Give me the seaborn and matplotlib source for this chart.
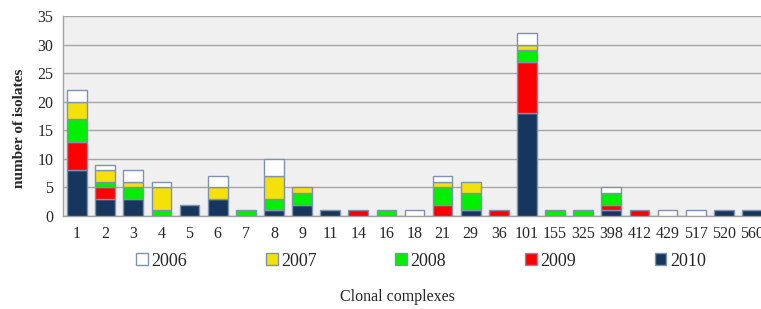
import numpy as np
import pandas as pd
import matplotlib
matplotlib.use("Agg")
import matplotlib.pyplot as plt
from matplotlib.patches import Patch
import seaborn as sns

categories = ["1", "2", "3", "4", "5", "6", "7", "8", "9", "11", "14", "16", "18",
              "21", "29", "36", "101", "155", "325", "398", "412", "429", "517", "520", "560"]
y2010 = [8, 3, 3, 0, 2, 3, 0, 1, 2, 1, 0, 0, 0, 0, 1, 0, 18, 0, 0, 1, 0, 0, 0, 1, 1]
y2009 = [5, 2, 0, 0, 0, 0, 0, 0, 0, 0, 1, 0, 0, 2, 0, 1, 9, 0, 0, 1, 1, 0, 0, 0, 0]
y2008 = [4, 1, 2, 1, 0, 0, 1, 2, 2, 0, 0, 1, 0, 3, 3, 0, 2, 1, 1, 2, 0, 0, 0, 0, 0]
y2007 = [3, 2, 1, 4, 0, 2, 0, 4, 1, 0, 0, 0, 0, 1, 2, 0, 1, 0, 0, 0, 0, 0, 0, 0, 0]
y2006 = [2, 1, 2, 1, 0, 2, 0, 3, 0, 0, 0, 0, 1, 1, 0, 0, 2, 0, 0, 1, 0, 1, 1, 0, 0]

years = ["2006", "2007", "2008", "2009", "2010"]
series = {"2010": y2010, "2009": y2009, "2008": y2008, "2007": y2007, "2006": y2006}
colors = {"2006": "#FFFFFF", "2007": "#F5E10A", "2008": "#00F000",
          "2009": "#FF0000", "2010": "#17365D"}
edge = "#7F93B0"

sns.set_style("white")
plt.rcParams["font.family"] = ["Liberation Serif", "DejaVu Serif"]

fig = plt.figure(figsize=(7.61, 3.09), dpi=100)
ax = fig.add_axes([63 / 761, (309 - 216) / 309, 703 / 761, 200 / 309])
ax.set_facecolor("#F0F0F0")

df = pd.DataFrame({"cc": categories})
bottom = np.zeros(len(categories))
for yr in ["2010", "2009", "2008", "2007", "2006"]:
    vals = np.array(series[yr], dtype=float)
    df["v"] = vals
    sns.barplot(data=df, x="cc", y="v", order=categories, color=colors[yr],
                bottom=bottom, width=0.7, edgecolor=edge, linewidth=1.0,
                saturation=1, ax=ax, zorder=3)
    bottom = bottom + vals

# hide empty segments (zero-height bars would otherwise show an edge line)
for p in list(ax.patches):
    if p.get_height() == 0:
        p.set_visible(False)

ax.set_xlim(-0.5, len(categories) - 0.5)
ax.set_ylim(0, 35)
ax.set_yticks(range(0, 36, 5))
ax.yaxis.grid(True, color="#A6A6A6", linewidth=1.0, zorder=0)
ax.set_axisbelow(True)
for s in ["top", "right"]:
    ax.spines[s].set_visible(False)
for s in ["left", "bottom"]:
    ax.spines[s].set_color("#A0A0A0")
    ax.spines[s].set_linewidth(1.0)

ax.set_xticks(np.arange(len(categories)))
ax.set_xticklabels(categories, fontsize=11.5)
ax.tick_params(axis="x", length=0, pad=7)
ax.set_xticks(np.arange(len(categories) + 1) - 0.5, minor=True)
ax.tick_params(axis="x", which="minor", length=4, color="#A0A0A0", direction="out")
ax.tick_params(axis="y", labelsize=11.5, length=4, color="#A0A0A0", direction="out", pad=3)
ax.set_xlabel("")
ax.set_ylabel("number of isolates", fontsize=11, fontweight="bold")
ax.yaxis.set_label_coords(-0.052, 0.44)

handles = [Patch(facecolor=colors[y], edgecolor=edge, label=y) for y in years]
fig.legend(handles=handles, loc="center", bbox_to_anchor=(421 / 761, 1 - 261 / 309),
           ncol=5, frameon=False, fontsize=13, handlelength=0.65, handleheight=0.65,
           handletextpad=0.2, columnspacing=4.35)
fig.text(397 / 761, 1 - 297 / 309, "Clonal complexes", ha="center", va="center", fontsize=11.5)

fig.savefig("out.png", dpi=100)
